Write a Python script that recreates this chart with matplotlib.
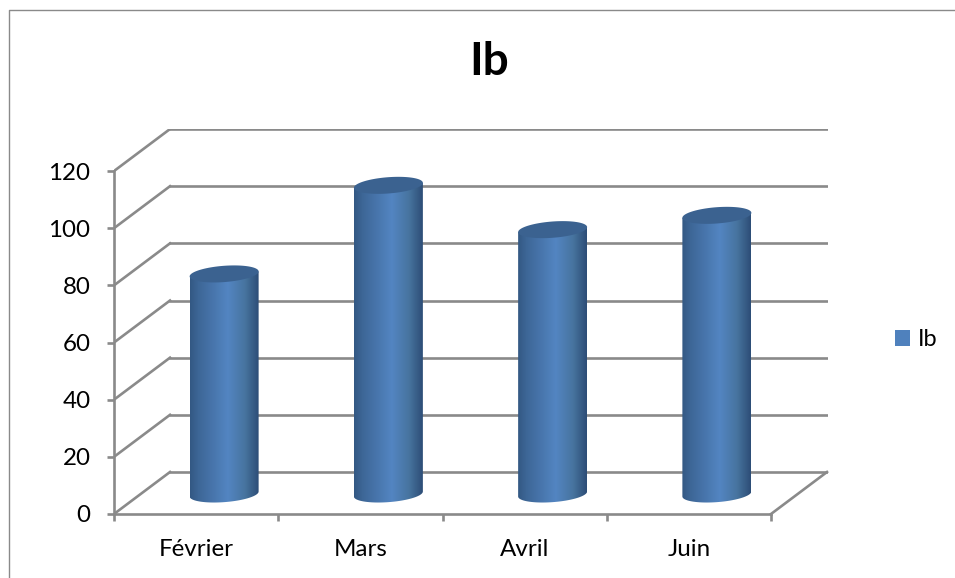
import numpy as np
import matplotlib
matplotlib.use("Agg")
import matplotlib.pyplot as plt
from matplotlib.colors import LinearSegmentedColormap
from matplotlib.lines import Line2D
from matplotlib.patches import Patch, Polygon

months = ["Février", "Mars", "Avril", "Juin"]
ib = [77, 108, 92.5, 97.5]
y_ticks = [0, 20, 40, 60, 80, 100, 120]

GRID = "#8A8A8A"
BLUE = "#4F81BD"
TOP = "#3B6290"
LW = 1.9

W, H = 955, 578
plt.rcParams["font.family"] = ["Lato", "DejaVu Sans"]

fig = plt.figure(figsize=(W / 100, H / 100), dpi=100)
ax = fig.add_axes([114 / W, 1 - 514 / H, 714 / W, 385 / H])
ax.set_xlim(0, 714 / 164.25)
ax.set_ylim(0, 385 / 2.858)

# fake 3D: the back wall is the front plane shifted by this much
dx = 56 / 164.25
dy = 42 / 2.858

for v in y_ticks:
    ax.plot([0, dx], [v, v + dy], color=GRID, lw=LW, zorder=1)
    ax.plot([dx, 4 + dx], [v + dy, v + dy], color=GRID, lw=LW, zorder=1)
ax.plot([4, 4 + dx], [0, dy], color=GRID, lw=LW, zorder=1, clip_on=False)

for s in ["top", "right"]:
    ax.spines[s].set_visible(False)
for s in ["left", "bottom"]:
    ax.spines[s].set_color(GRID)
    ax.spines[s].set_linewidth(LW)
ax.spines["left"].set_bounds(0, 120)
ax.spines["bottom"].set_bounds(0, 4)

ax.set_yticks(y_ticks)
ax.set_xticks(range(5))
ax.set_xticklabels([])
ax.set_xticks(np.arange(len(months)) + 0.5, months, minor=True)
ax.tick_params(axis="both", which="major", length=5, width=LW, color=GRID,
               labelsize=17.4, labelcolor="black")
ax.tick_params(axis="y", pad=12)
ax.tick_params(axis="x", which="minor", length=0, labelsize=17.4, pad=18)
ax.tick_params(axis="y", which="minor", length=0)

# cylinders: gradient image clipped to the outline, then a darker lid
shade = LinearSegmentedColormap.from_list(
    "cyl", [(0, "#335883"), (0.12, "#3D6696"), (0.55, "#5385C2"),
            (0.8, "#47749F"), (1, "#2D4D76")])
half_w = 0.21
base_y = 20 / 2.858
t = np.linspace(0, 2 * np.pi, 121)
ell_x = half_w * np.cos(t)
ell_y = 0.87 * np.cos(t) + 2.85 * np.sin(t)
grad = np.linspace(0, 1, 256).reshape(1, -1)

for i, v in enumerate(ib):
    cx = i + 0.5 + dx / 2
    top_y = base_y + v
    lower = t[60:121]
    outline = np.vstack([
        np.column_stack([cx + half_w * np.cos(lower),
                         base_y + 0.87 * np.cos(lower) + 2.85 * np.sin(lower)]),
        [[cx + half_w, top_y + 0.87], [cx - half_w, top_y - 0.87]],
    ])
    im = ax.imshow(grad, cmap=shade, aspect="auto", zorder=3,
                   extent=[cx - half_w, cx + half_w, 0, top_y + 5])
    clip = Polygon(outline, closed=True, transform=ax.transData)
    im.set_clip_path(clip)
    ax.fill(cx + ell_x, top_y + ell_y, color=TOP, lw=0, zorder=4)

ax.set_xlim(0, 714 / 164.25)
ax.set_ylim(0, 385 / 2.858)

fig.text(489 / W, 1 - 62 / H, "Ib", fontsize=33, fontweight="bold",
         ha="center", va="center")

ax.legend(handles=[Patch(facecolor=BLUE, label="Ib")], frameon=False,
          loc="center left", bbox_to_anchor=(895 / W, 1 - 340 / H),
          bbox_transform=fig.transFigure, fontsize=17, borderpad=0,
          borderaxespad=0, handlelength=0.63, handleheight=0.63, handletextpad=0.35)

# chart frame, only the top and left edges are visible
fig.add_artist(Line2D([9 / W, 9 / W, 1], [0, 1 - 10 / H, 1 - 10 / H],
                      color=GRID, lw=1))

fig.savefig("out.png", dpi=100)
